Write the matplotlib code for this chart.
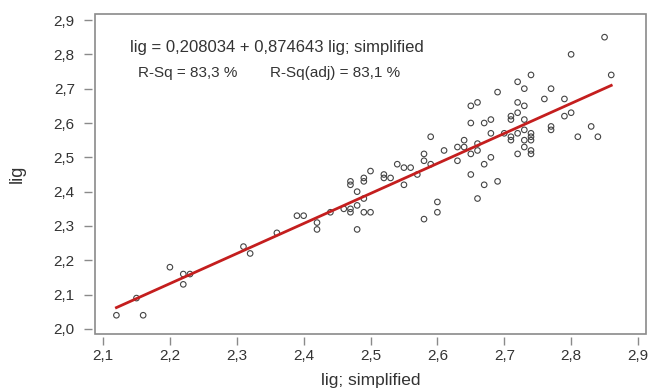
"""
Fitted line plot: lig vs lig; simplified
"""
import matplotlib

matplotlib.use("Agg")
import matplotlib.pyplot as plt
from matplotlib.patches import Rectangle
from matplotlib.ticker import FuncFormatter
import numpy as np

plt.rcParams["font.family"] = ["Liberation Sans", "DejaVu Sans"]

lig_simplified = [
    2.12, 2.15, 2.16, 2.20, 2.22, 2.23, 2.22, 2.31, 2.32, 2.36,
    2.39, 2.40, 2.42, 2.42, 2.44, 2.46, 2.47, 2.47, 2.47, 2.47,
    2.48, 2.48, 2.48, 2.49, 2.49, 2.49, 2.49, 2.50, 2.50, 2.52,
    2.52, 2.53, 2.54, 2.55, 2.56, 2.55, 2.57, 2.58, 2.58, 2.58,
    2.59, 2.59, 2.60, 2.60, 2.61, 2.63, 2.63, 2.64, 2.64, 2.65,
    2.65, 2.65, 2.65, 2.66, 2.66, 2.66, 2.66, 2.67, 2.67, 2.67,
    2.68, 2.68, 2.68, 2.69, 2.69, 2.70, 2.71, 2.71, 2.71, 2.71,
    2.72, 2.72, 2.72, 2.72, 2.72, 2.73, 2.73, 2.73, 2.73, 2.73,
    2.73, 2.74, 2.74, 2.74, 2.74, 2.74, 2.74, 2.76, 2.77, 2.77,
    2.77, 2.79, 2.79, 2.80, 2.80, 2.81, 2.83, 2.84, 2.85, 2.86,
]
lig = [
    2.04, 2.09, 2.04, 2.18, 2.16, 2.16, 2.13, 2.24, 2.22, 2.28,
    2.33, 2.33, 2.31, 2.29, 2.34, 2.35, 2.35, 2.34, 2.43, 2.42,
    2.40, 2.36, 2.29, 2.38, 2.44, 2.43, 2.34, 2.34, 2.46, 2.45,
    2.44, 2.44, 2.48, 2.47, 2.47, 2.42, 2.45, 2.51, 2.49, 2.32,
    2.56, 2.48, 2.37, 2.34, 2.52, 2.53, 2.49, 2.55, 2.53, 2.65,
    2.60, 2.51, 2.45, 2.66, 2.54, 2.52, 2.38, 2.60, 2.48, 2.42,
    2.61, 2.57, 2.50, 2.69, 2.43, 2.57, 2.62, 2.61, 2.56, 2.55,
    2.72, 2.66, 2.63, 2.57, 2.51, 2.70, 2.65, 2.61, 2.58, 2.55,
    2.53, 2.74, 2.57, 2.56, 2.55, 2.52, 2.51, 2.67, 2.70, 2.59,
    2.58, 2.67, 2.62, 2.80, 2.63, 2.56, 2.59, 2.56, 2.85, 2.74,
]

# regression from the chart annotation
intercept = 0.208034
slope = 0.874643
x_ticks = [2.1, 2.2, 2.3, 2.4, 2.5, 2.6, 2.7, 2.8, 2.9]
y_ticks = [2.0, 2.1, 2.2, 2.3, 2.4, 2.5, 2.6, 2.7, 2.8, 2.9]

fig = plt.figure(figsize=(6.53, 3.89), dpi=100)
ax = fig.add_axes([0.1455, 0.1414, 0.8438, 0.8226])

ax.scatter(lig_simplified, lig, s=16, facecolors="none", edgecolors="#444444",
           linewidths=0.8, zorder=3)

# fitted line across the data range
fit_x = np.array([min(lig_simplified), max(lig_simplified)])
ax.plot(fit_x, intercept + slope * fit_x, color="#c41e1e", lw=2, zorder=4)

ax.set_xlim(2.088, 2.912)
ax.set_ylim(1.9854, 2.9175)
ax.set_xticks(x_ticks)
ax.set_yticks(y_ticks)
comma = FuncFormatter(lambda v, _: f"{v:.1f}".replace(".", ","))
ax.xaxis.set_major_formatter(comma)
ax.yaxis.set_major_formatter(comma)

# minitab style: ticks sit a bit away from the frame
for side in ["bottom", "left"]:
    ax.spines[side].set_position(("outward", 2))
for side in ax.spines:
    ax.spines[side].set_visible(False)
ax.add_patch(Rectangle((0, 0), 1, 1, transform=ax.transAxes, fill=False,
                       edgecolor="#8a8a8a", lw=1.2, clip_on=False, zorder=5))
ax.tick_params(direction="out", length=6, width=1, color="#8a8a8a",
               labelsize=11, labelcolor="#333333")
ax.tick_params(axis="y", pad=6.5)
ax.tick_params(axis="x", pad=3)

ax.set_xlabel("lig; simplified", fontsize=12.5, color="#333333", labelpad=7)
ax.set_ylabel("lig", fontsize=13, color="#333333", labelpad=20)

ax.text(0.064, 0.895, "lig = 0,208034 + 0,874643 lig; simplified",
        transform=ax.transAxes, fontsize=12, color="#333333", va="center")
ax.text(0.078, 0.815, "R-Sq = 83,3 %", transform=ax.transAxes,
        fontsize=11, color="#333333", va="center")
ax.text(0.318, 0.815, "R-Sq(adj) = 83,1 %", transform=ax.transAxes,
        fontsize=11, color="#333333", va="center")

fig.savefig("out.png", dpi=100, facecolor="white")
